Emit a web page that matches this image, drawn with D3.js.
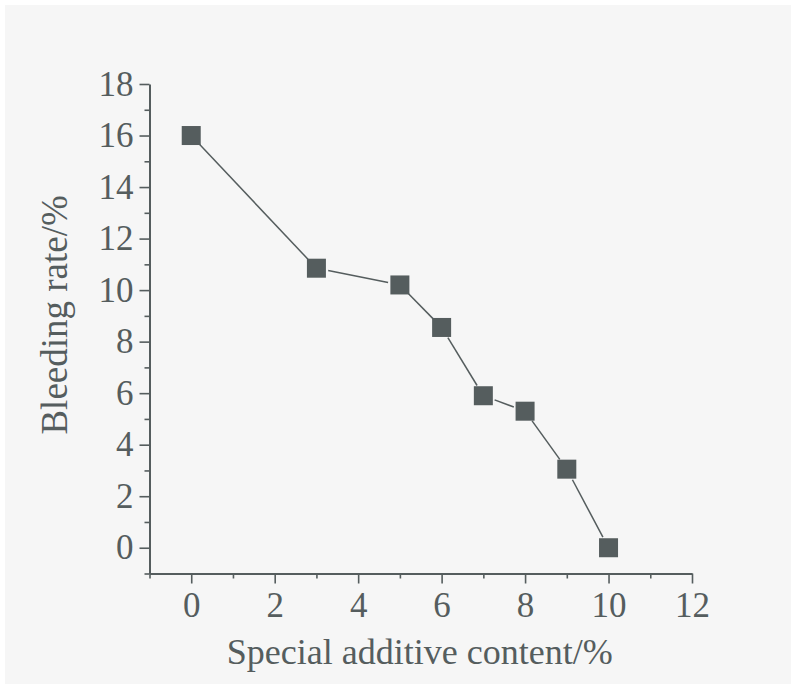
<!DOCTYPE html>
<html>
<head>
<meta charset="utf-8">
<script src="https://cdn.jsdelivr.net/npm/d3@7"></script>
<style>
  body { margin: 0; background: #ffffff; }
  svg { display: block; }
</style>
</head>
<body>
<div id="chart"></div>
<script>
const content = [0, 3, 5, 6, 7, 8, 9, 10];
const bleeding = [16, 10.85, 10.2, 8.55, 5.9, 5.3, 3.05, 0];
const xTicks = [0, 2, 4, 6, 8, 10, 12];
const yTicks = [0, 2, 4, 6, 8, 10, 12, 14, 16, 18];

const width = 791,
    height = 684,
    ink = "#555d5e",
    fontFamily = "'Liberation Serif', 'Times New Roman', serif";

const xScale = d3.scaleLinear().domain([-1, 12]).range([149.5, 692]);
const yScale = d3.scaleLinear().domain([-1, 18]).range([573.5, 84]);

const svg = d3.select("#chart")
    .append("svg")
    .attr("width", width)
    .attr("height", height);

svg.append("rect")
    .attr("x", 5).attr("y", 5)
    .attr("width", width - 5).attr("height", height - 5)
    .attr("fill", "#f6f6f6");

// minor ticks first, then major ticks with labels
const minorX = d3.range(-1, 12, 1).filter(d => d % 2 !== 0);
const minorY = d3.range(-1, 18, 1).filter(d => d % 2 !== 0);

svg.append("g")
    .attr("transform", `translate(0, ${yScale(-1)})`)
    .call(d3.axisBottom(xScale).tickValues(minorX).tickSize(5).tickFormat("").tickSizeOuter(0))
    .call(g => g.select(".domain").remove())
    .call(g => g.selectAll("line").attr("stroke", ink).attr("stroke-width", 1.6));

svg.append("g")
    .attr("transform", `translate(${xScale(-1)}, 0)`)
    .call(d3.axisLeft(yScale).tickValues(minorY).tickSize(5).tickFormat("").tickSizeOuter(0))
    .call(g => g.select(".domain").remove())
    .call(g => g.selectAll("line").attr("stroke", ink).attr("stroke-width", 1.6));

svg.append("g")
    .attr("transform", `translate(0, ${yScale(-1)})`)
    .call(d3.axisBottom(xScale).tickValues(xTicks).tickSize(10).tickSizeOuter(0).tickPadding(9))
    .call(g => g.select(".domain").attr("stroke", ink).attr("stroke-width", 2))
    .call(g => g.selectAll("line").attr("stroke", ink).attr("stroke-width", 1.6))
    .call(g => g.selectAll("text")
        .attr("fill", ink)
        .attr("font-size", 35)
        .attr("font-family", fontFamily));

svg.append("g")
    .attr("transform", `translate(${xScale(-1)}, 0)`)
    .call(d3.axisLeft(yScale).tickValues(yTicks).tickSize(10).tickSizeOuter(0).tickPadding(6))
    .call(g => g.select(".domain").attr("stroke", ink).attr("stroke-width", 2))
    .call(g => g.selectAll("line").attr("stroke", ink).attr("stroke-width", 1.6))
    .call(g => g.selectAll("text")
        .attr("fill", ink)
        .attr("font-size", 35)
        .attr("font-family", fontFamily));

const points = content.map((d, i) => ({ x: d, y: bleeding[i] }));

// line segments, trimmed so they stop short of the markers
const gap = 12;
const segs = d3.pairs(points).map(([a, b]) => {
    const x1 = xScale(a.x), y1 = yScale(a.y), x2 = xScale(b.x), y2 = yScale(b.y);
    const len = Math.hypot(x2 - x1, y2 - y1);
    const ux = (x2 - x1) / len, uy = (y2 - y1) / len;
    return [x1 + ux * gap, y1 + uy * gap, x2 - ux * gap, y2 - uy * gap];
});

svg.selectAll("line.seg")
    .data(segs)
    .join("line")
    .attr("class", "seg")
    .attr("x1", d => d[0]).attr("y1", d => d[1])
    .attr("x2", d => d[2]).attr("y2", d => d[3])
    .attr("stroke", ink)
    .attr("stroke-width", 1.5);

const size = 19;
svg.selectAll("rect.pt")
    .data(points)
    .join("rect")
    .attr("class", "pt")
    .attr("x", d => xScale(d.x) - size / 2)
    .attr("y", d => yScale(d.y) - size / 2)
    .attr("width", size)
    .attr("height", size)
    .attr("fill", ink);

svg.append("text")
    .attr("x", (xScale(-1) + xScale(12)) / 2 - 1)
    .attr("y", 664)
    .attr("text-anchor", "middle")
    .attr("fill", ink)
    .attr("font-family", fontFamily)
    .attr("font-size", 36)
    .text("Special additive content/%");

svg.append("text")
    .attr("transform", `translate(67, ${yScale(9) - 1}) rotate(-90)`)
    .attr("text-anchor", "middle")
    .attr("fill", ink)
    .attr("font-family", fontFamily)
    .attr("font-size", 37)
    .text("Bleeding rate/%");
</script>
</body>
</html>
